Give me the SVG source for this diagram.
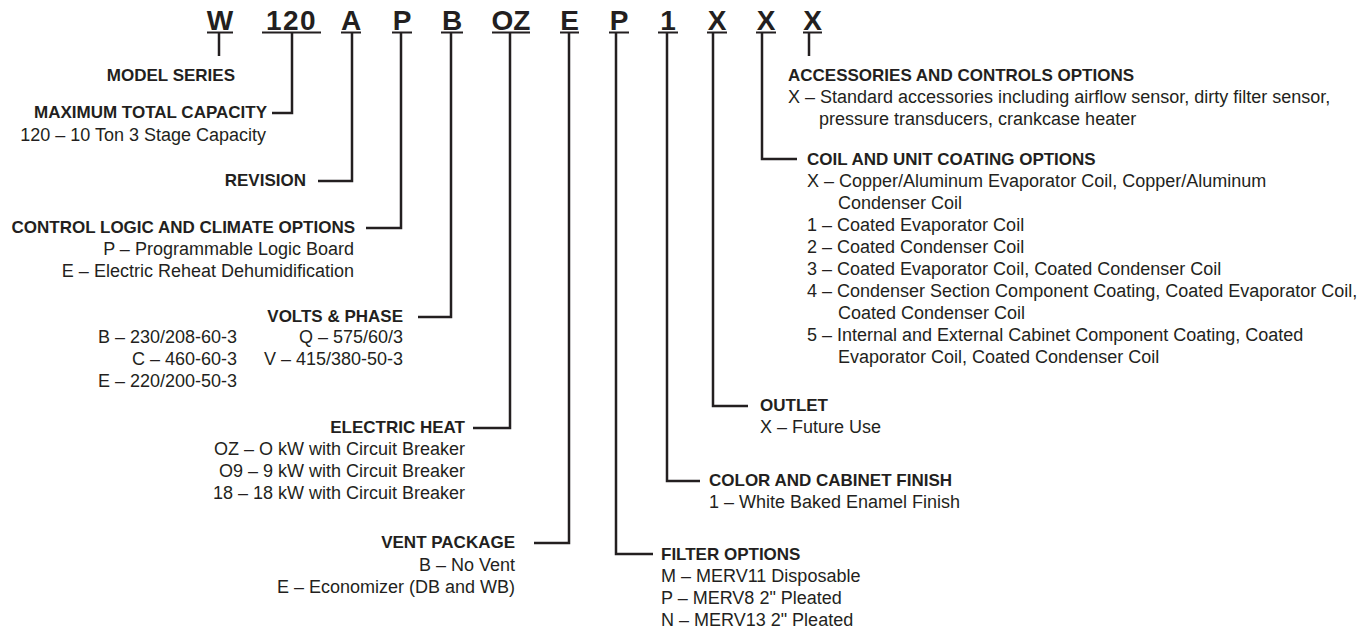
<svg xmlns="http://www.w3.org/2000/svg" width="1362" height="628" viewBox="0 0 1362 628">
<style>
  .bg{fill:#ffffff}
  .code{font-family:"Liberation Sans",Arial,sans-serif;font-weight:bold;font-size:28px;fill:#231f20;text-anchor:middle}
  .h{font-family:"Liberation Sans",Arial,sans-serif;font-weight:bold;font-size:17px;fill:#231f20}
  .t{font-family:"Liberation Sans",Arial,sans-serif;font-size:18px;fill:#231f20}
  .e{text-anchor:end}
  .ul{stroke:#231f20;stroke-width:2}
  .ln{stroke:#231f20;stroke-width:2.5;fill:none}
</style>
<rect class="bg" x="0" y="0" width="1362" height="628"/>

<g id="code">
  <g id="code-W"><text class="code" x="220" y="30">W</text><line class="ul" x1="207" y1="32.5" x2="233" y2="32.5"/></g>
  <g id="code-120"><text class="code" x="291.5" y="30" letter-spacing="1.5">120</text><line class="ul" x1="262" y1="32.5" x2="321" y2="32.5"/></g>
  <g id="code-A"><text class="code" x="351" y="30">A</text><line class="ul" x1="341" y1="32.5" x2="361" y2="32.5"/></g>
  <g id="code-P"><text class="code" x="402" y="30">P</text><line class="ul" x1="392" y1="32.5" x2="412" y2="32.5"/></g>
  <g id="code-B"><text class="code" x="452" y="30">B</text><line class="ul" x1="441" y1="32.5" x2="463" y2="32.5"/></g>
  <g id="code-OZ"><text class="code" x="511" y="30">OZ</text><line class="ul" x1="492" y1="32.5" x2="530" y2="32.5"/></g>
  <g id="code-E"><text class="code" x="569.5" y="30">E</text><line class="ul" x1="560" y1="32.5" x2="579" y2="32.5"/></g>
  <g id="code-P2"><text class="code" x="619" y="30">P</text><line class="ul" x1="609" y1="32.5" x2="629" y2="32.5"/></g>
  <g id="code-1"><text class="code" x="668" y="30">1</text><line class="ul" x1="658" y1="32.5" x2="678" y2="32.5"/></g>
  <g id="code-X1"><text class="code" x="717" y="30">X</text><line class="ul" x1="707" y1="32.5" x2="727" y2="32.5"/></g>
  <g id="code-X2"><text class="code" x="766" y="30">X</text><line class="ul" x1="756" y1="32.5" x2="776" y2="32.5"/></g>
  <g id="code-X3"><text class="code" x="812.5" y="30">X</text><line class="ul" x1="803" y1="32.5" x2="822" y2="32.5"/></g>
</g>

<g id="connectors">
  <path class="ln" d="M219,33 V56"/>
  <path class="ln" d="M292,33 V113 H272"/>
  <path class="ln" d="M352,33 V181 H318"/>
  <path class="ln" d="M401,33 V228 H366"/>
  <path class="ln" d="M451,33 V317 H418"/>
  <path class="ln" d="M510,33 V428 H473"/>
  <path class="ln" d="M569,33 V543 H534"/>
  <path class="ln" d="M616,33 V554 H653"/>
  <path class="ln" d="M667,33 V481 H700"/>
  <path class="ln" d="M713,33 V406 H748"/>
  <path class="ln" d="M762,33 V159 H797"/>
  <path class="ln" d="M809,33 V56"/>
</g>

<g id="model-series">
  <text class="h e" x="235" y="81">MODEL SERIES</text>
</g>
<g id="max-capacity">
  <text class="h e" x="267" y="118">MAXIMUM TOTAL CAPACITY</text>
  <text class="t e" x="266" y="141">120 – 10 Ton 3 Stage Capacity</text>
</g>
<g id="revision">
  <text class="h e" x="306" y="186">REVISION</text>
</g>
<g id="control-logic">
  <text class="h e" x="355" y="233">CONTROL LOGIC AND CLIMATE OPTIONS</text>
  <text class="t e" x="354" y="255">P – Programmable Logic Board</text>
  <text class="t e" x="354" y="277">E – Electric Reheat Dehumidification</text>
</g>
<g id="volts-phase">
  <text class="h e" x="403" y="322">VOLTS &amp; PHASE</text>
  <text class="t e" x="237" y="343">B – 230/208-60-3</text>
  <text class="t e" x="237" y="365">C – 460-60-3</text>
  <text class="t e" x="237" y="387">E – 220/200-50-3</text>
  <text class="t e" x="403" y="343">Q – 575/60/3</text>
  <text class="t e" x="403" y="365">V – 415/380-50-3</text>
</g>
<g id="electric-heat">
  <text class="h e" x="465" y="433">ELECTRIC HEAT</text>
  <text class="t e" x="465" y="455">OZ – O kW with Circuit Breaker</text>
  <text class="t e" x="465" y="477">O9 – 9 kW with Circuit Breaker</text>
  <text class="t e" x="465" y="499">18 – 18 kW with Circuit Breaker</text>
</g>
<g id="vent-package">
  <text class="h e" x="515" y="548">VENT PACKAGE</text>
  <text class="t e" x="515" y="571">B – No Vent</text>
  <text class="t e" x="515" y="593">E – Economizer (DB and WB)</text>
</g>
<g id="filter-options">
  <text class="h" x="661" y="560">FILTER OPTIONS</text>
  <text class="t" x="661" y="582">M – MERV11 Disposable</text>
  <text class="t" x="661" y="604">P – MERV8 2" Pleated</text>
  <text class="t" x="661" y="626">N – MERV13 2" Pleated</text>
</g>
<g id="color-finish">
  <text class="h" x="709" y="486">COLOR AND CABINET FINISH</text>
  <text class="t" x="709" y="508">1 – White Baked Enamel Finish</text>
</g>
<g id="outlet">
  <text class="h" x="760" y="411">OUTLET</text>
  <text class="t" x="760" y="433">X – Future Use</text>
</g>
<g id="coil-coating">
  <text class="h" x="807" y="165">COIL AND UNIT COATING OPTIONS</text>
  <text class="t" x="807" y="187">X – Copper/Aluminum Evaporator Coil, Copper/Aluminum</text>
  <text class="t" x="838" y="209">Condenser Coil</text>
  <text class="t" x="807" y="231">1 – Coated Evaporator Coil</text>
  <text class="t" x="807" y="253">2 – Coated Condenser Coil</text>
  <text class="t" x="807" y="275">3 – Coated Evaporator Coil, Coated Condenser Coil</text>
  <text class="t" x="807" y="297">4 – Condenser Section Component Coating, Coated Evaporator Coil,</text>
  <text class="t" x="838" y="319">Coated Condenser Coil</text>
  <text class="t" x="807" y="341">5 – Internal and External Cabinet Component Coating, Coated</text>
  <text class="t" x="838" y="363">Evaporator Coil, Coated Condenser Coil</text>
</g>
<g id="accessories">
  <text class="h" x="788" y="81">ACCESSORIES AND CONTROLS OPTIONS</text>
  <text class="t" x="788" y="103">X – Standard accessories including airflow sensor, dirty filter sensor,</text>
  <text class="t" x="819" y="125">pressure transducers, crankcase heater</text>
</g>
</svg>
